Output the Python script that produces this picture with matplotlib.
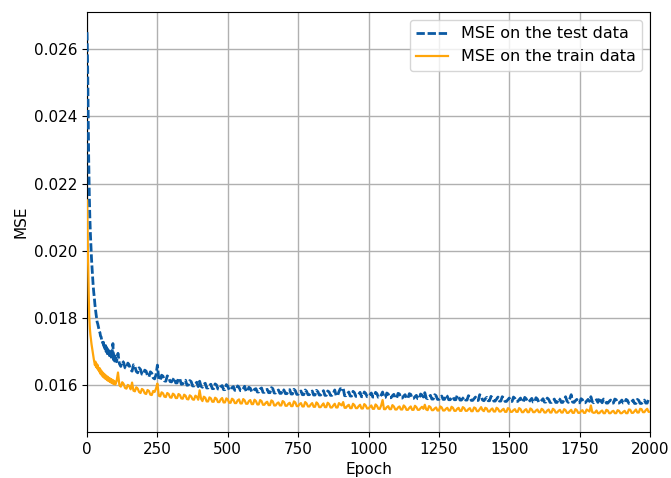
import matplotlib
matplotlib.use("Agg")
import matplotlib.pyplot as plt

epochs = list(range(0, 100, 2)) + list(range(100, 2001, 5))

mse_test = [
    # epochs 0..100 (step 2)
    0.02650, 0.02560, 0.02420, 0.02270, 0.02170, 0.02100, 0.02050, 0.02010, 0.01975, 0.01945,
    0.01920, 0.01895, 0.01875, 0.01860, 0.01840, 0.01825, 0.01812, 0.01800, 0.01788, 0.01783,
    0.01775, 0.01768, 0.01760, 0.01756, 0.01746, 0.01744, 0.01735, 0.01736, 0.01725, 0.01728,
    0.01716, 0.01722, 0.01708, 0.01718, 0.01700, 0.01712, 0.01694, 0.01706, 0.01690, 0.01702,
    0.01684, 0.01700, 0.01680, 0.01694, 0.01677, 0.01708, 0.01724, 0.01676, 0.01690, 0.01672,
    0.01684,
    # epochs 105..2000 (step 5)
    0.01670, 0.01695, 0.01664, 0.01656, 0.01672, 0.01668, 0.01652, 0.01650, 0.01666, 0.01660,
    0.01646, 0.01642, 0.01661, 0.01656, 0.01641, 0.01637, 0.01652, 0.01647, 0.01633, 0.01632,
    0.01645, 0.01642, 0.01628, 0.01625, 0.01640, 0.01636, 0.01622, 0.01619, 0.01631, 0.01660,
    0.01618, 0.01615, 0.01630, 0.01627, 0.01613, 0.01612, 0.01628, 0.01624, 0.01611, 0.01610,
    0.01616, 0.01622, 0.01607, 0.01607, 0.01621, 0.01618, 0.01603, 0.01604, 0.01612, 0.01615,
    0.01600, 0.01601, 0.01614, 0.01611, 0.01598, 0.01598, 0.01605, 0.01609, 0.01596, 0.01612,
    0.01597, 0.01594, 0.01603, 0.01606, 0.01592, 0.01592, 0.01600, 0.01603, 0.01590, 0.01590,
    0.01604, 0.01601, 0.01589, 0.01588, 0.01596, 0.01599, 0.01587, 0.01587, 0.01602, 0.01597,
    0.01586, 0.01586, 0.01593, 0.01596, 0.01585, 0.01585, 0.01598, 0.01594, 0.01584, 0.01584,
    0.01590, 0.01597, 0.01582, 0.01582, 0.01594, 0.01591, 0.01581, 0.01581, 0.01588, 0.01590,
    0.01580, 0.01580, 0.01589, 0.01592, 0.01579, 0.01579, 0.01585, 0.01588, 0.01578, 0.01578,
    0.01593, 0.01590, 0.01577, 0.01577, 0.01583, 0.01586, 0.01576, 0.01576, 0.01589, 0.01585,
    0.01575, 0.01575, 0.01582, 0.01587, 0.01574, 0.01574, 0.01588, 0.01584, 0.01573, 0.01573,
    0.01580, 0.01583, 0.01572, 0.01572, 0.01586, 0.01582, 0.01572, 0.01572, 0.01578, 0.01583,
    0.01571, 0.01571, 0.01585, 0.01581, 0.01571, 0.01571, 0.01577, 0.01584, 0.01570, 0.01570,
    0.01583, 0.01580, 0.01570, 0.01570, 0.01576, 0.01586, 0.01569, 0.01569, 0.01581, 0.01590,
    0.01588, 0.01592, 0.01569, 0.01569, 0.01575, 0.01580, 0.01568, 0.01568, 0.01582, 0.01578,
    0.01567, 0.01567, 0.01573, 0.01579, 0.01566, 0.01566, 0.01580, 0.01576, 0.01566, 0.01566,
    0.01572, 0.01577, 0.01565, 0.01565, 0.01579, 0.01575, 0.01564, 0.01564, 0.01571, 0.01580,
    0.01564, 0.01564, 0.01577, 0.01574, 0.01563, 0.01563, 0.01569, 0.01573, 0.01562, 0.01562,
    0.01576, 0.01574, 0.01562, 0.01562, 0.01568, 0.01572, 0.01561, 0.01561, 0.01575, 0.01573,
    0.01561, 0.01561, 0.01566, 0.01570, 0.01560, 0.01560, 0.01574, 0.01571, 0.01565, 0.01578,
    0.01562, 0.01560, 0.01566, 0.01570, 0.01559, 0.01559, 0.01572, 0.01569, 0.01558, 0.01558,
    0.01564, 0.01568, 0.01558, 0.01558, 0.01571, 0.01567, 0.01557, 0.01557, 0.01562, 0.01566,
    0.01557, 0.01557, 0.01570, 0.01567, 0.01556, 0.01556, 0.01561, 0.01565, 0.01556, 0.01556,
    0.01569, 0.01566, 0.01555, 0.01555, 0.01560, 0.01565, 0.01555, 0.01555, 0.01572, 0.01568,
    0.01556, 0.01554, 0.01560, 0.01564, 0.01554, 0.01554, 0.01567, 0.01563, 0.01553, 0.01553,
    0.01559, 0.01565, 0.01553, 0.01553, 0.01566, 0.01562, 0.01552, 0.01552, 0.01557, 0.01562,
    0.01552, 0.01552, 0.01565, 0.01561, 0.01552, 0.01552, 0.01557, 0.01562, 0.01551, 0.01551,
    0.01564, 0.01560, 0.01551, 0.01551, 0.01556, 0.01561, 0.01550, 0.01550, 0.01563, 0.01559,
    0.01550, 0.01550, 0.01555, 0.01560, 0.01550, 0.01550, 0.01562, 0.01558, 0.01549, 0.01549,
    0.01554, 0.01559, 0.01549, 0.01549, 0.01561, 0.01558, 0.01549, 0.01549, 0.01557, 0.01566,
    0.01553, 0.01549, 0.01560, 0.01572, 0.01550, 0.01549, 0.01554, 0.01558, 0.01548, 0.01548,
    0.01560, 0.01557, 0.01548, 0.01548, 0.01553, 0.01558, 0.01552, 0.01566, 0.01551, 0.01548,
    0.01553, 0.01557, 0.01549, 0.01563, 0.01554, 0.01548, 0.01559, 0.01557, 0.01547, 0.01547,
    0.01552, 0.01556, 0.01547, 0.01547, 0.01559, 0.01557, 0.01547, 0.01547, 0.01551, 0.01556,
    0.01547, 0.01547, 0.01558, 0.01555, 0.01546, 0.01546, 0.01551, 0.01556, 0.01546, 0.01546,
    0.01558, 0.01555, 0.01546, 0.01546, 0.01551, 0.01556, 0.01547, 0.01547, 0.01559, 0.01556,
]

mse_train = [
    # epochs 0..100 (step 2)
    0.02150, 0.02050, 0.01960, 0.01870, 0.01800, 0.01770, 0.01750, 0.01735, 0.01722, 0.01712,
    0.01700, 0.01688, 0.01678, 0.01668, 0.01660, 0.01670, 0.01654, 0.01664, 0.01650, 0.01660,
    0.01645, 0.01652, 0.01640, 0.01650, 0.01634, 0.01644, 0.01630, 0.01640, 0.01626, 0.01636,
    0.01623, 0.01633, 0.01620, 0.01630, 0.01618, 0.01627, 0.01615, 0.01625, 0.01613, 0.01622,
    0.01611, 0.01620, 0.01609, 0.01618, 0.01607, 0.01616, 0.01605, 0.01614, 0.01604, 0.01612,
    0.01602,
    # epochs 105..2000 (step 5)
    0.01612, 0.01638, 0.01600, 0.01596, 0.01609, 0.01604, 0.01592, 0.01590, 0.01601, 0.01598,
    0.01588, 0.01608, 0.01584, 0.01582, 0.01594, 0.01590, 0.01580, 0.01577, 0.01589, 0.01586,
    0.01576, 0.01574, 0.01586, 0.01583, 0.01572, 0.01571, 0.01583, 0.01580, 0.01590, 0.01605,
    0.01569, 0.01567, 0.01579, 0.01576, 0.01566, 0.01565, 0.01577, 0.01574, 0.01564, 0.01563,
    0.01575, 0.01572, 0.01562, 0.01562, 0.01574, 0.01571, 0.01561, 0.01560, 0.01572, 0.01569,
    0.01559, 0.01558, 0.01570, 0.01567, 0.01558, 0.01557, 0.01569, 0.01566, 0.01557, 0.01585,
    0.01560, 0.01553, 0.01566, 0.01563, 0.01552, 0.01552, 0.01564, 0.01561, 0.01551, 0.01551,
    0.01563, 0.01560, 0.01550, 0.01550, 0.01558, 0.01562, 0.01549, 0.01549, 0.01561, 0.01558,
    0.01548, 0.01548, 0.01560, 0.01557, 0.01547, 0.01547, 0.01555, 0.01558, 0.01546, 0.01546,
    0.01559, 0.01555, 0.01545, 0.01545, 0.01553, 0.01556, 0.01544, 0.01544, 0.01557, 0.01553,
    0.01543, 0.01543, 0.01556, 0.01553, 0.01542, 0.01542, 0.01548, 0.01551, 0.01541, 0.01541,
    0.01555, 0.01552, 0.01540, 0.01540, 0.01546, 0.01549, 0.01540, 0.01540, 0.01553, 0.01550,
    0.01539, 0.01539, 0.01545, 0.01548, 0.01538, 0.01538, 0.01552, 0.01549, 0.01538, 0.01538,
    0.01544, 0.01547, 0.01537, 0.01537, 0.01550, 0.01546, 0.01537, 0.01537, 0.01543, 0.01547,
    0.01536, 0.01536, 0.01549, 0.01545, 0.01535, 0.01535, 0.01541, 0.01546, 0.01535, 0.01535,
    0.01548, 0.01544, 0.01534, 0.01534, 0.01540, 0.01545, 0.01534, 0.01534, 0.01547, 0.01543,
    0.01540, 0.01550, 0.01533, 0.01533, 0.01539, 0.01542, 0.01532, 0.01532, 0.01545, 0.01541,
    0.01532, 0.01532, 0.01538, 0.01542, 0.01531, 0.01531, 0.01544, 0.01540, 0.01531, 0.01531,
    0.01536, 0.01540, 0.01530, 0.01530, 0.01543, 0.01539, 0.01530, 0.01530, 0.01540, 0.01556,
    0.01529, 0.01529, 0.01535, 0.01538, 0.01529, 0.01529, 0.01541, 0.01537, 0.01528, 0.01528,
    0.01534, 0.01537, 0.01528, 0.01528, 0.01540, 0.01536, 0.01527, 0.01527, 0.01533, 0.01537,
    0.01527, 0.01527, 0.01539, 0.01535, 0.01527, 0.01527, 0.01532, 0.01536, 0.01530, 0.01542,
    0.01528, 0.01526, 0.01538, 0.01535, 0.01526, 0.01526, 0.01531, 0.01534, 0.01525, 0.01525,
    0.01537, 0.01534, 0.01525, 0.01525, 0.01530, 0.01533, 0.01525, 0.01525, 0.01536, 0.01533,
    0.01524, 0.01524, 0.01530, 0.01533, 0.01524, 0.01524, 0.01535, 0.01532, 0.01524, 0.01524,
    0.01529, 0.01532, 0.01523, 0.01523, 0.01534, 0.01532, 0.01523, 0.01523, 0.01529, 0.01535,
    0.01526, 0.01523, 0.01533, 0.01531, 0.01522, 0.01522, 0.01528, 0.01531, 0.01522, 0.01522,
    0.01533, 0.01530, 0.01522, 0.01522, 0.01527, 0.01530, 0.01521, 0.01521, 0.01532, 0.01530,
    0.01521, 0.01521, 0.01526, 0.01529, 0.01521, 0.01521, 0.01532, 0.01529, 0.01520, 0.01520,
    0.01526, 0.01529, 0.01520, 0.01520, 0.01531, 0.01528, 0.01520, 0.01520, 0.01525, 0.01528,
    0.01520, 0.01520, 0.01530, 0.01527, 0.01519, 0.01519, 0.01525, 0.01528, 0.01519, 0.01519,
    0.01530, 0.01527, 0.01519, 0.01519, 0.01524, 0.01527, 0.01519, 0.01519, 0.01529, 0.01526,
    0.01518, 0.01518, 0.01523, 0.01527, 0.01518, 0.01518, 0.01529, 0.01526, 0.01518, 0.01518,
    0.01523, 0.01526, 0.01518, 0.01518, 0.01528, 0.01525, 0.01522, 0.01540, 0.01520, 0.01518,
    0.01519, 0.01525, 0.01517, 0.01517, 0.01522, 0.01525, 0.01517, 0.01517, 0.01527, 0.01525,
    0.01517, 0.01517, 0.01522, 0.01524, 0.01517, 0.01517, 0.01526, 0.01524, 0.01517, 0.01517,
    0.01521, 0.01524, 0.01517, 0.01517, 0.01528, 0.01527, 0.01518, 0.01518, 0.01523, 0.01528,
    0.01519, 0.01519, 0.01530, 0.01529, 0.01520, 0.01520, 0.01526, 0.01530, 0.01521, 0.01521,
]

y_ticks = [0.016, 0.018, 0.020, 0.022, 0.024, 0.026]
x_ticks = [0, 250, 500, 750, 1000, 1250, 1500, 1750, 2000]

plt.rcParams['font.family'] = ['DejaVu Sans']
fig = plt.figure(figsize=(6.71, 4.78), dpi=100)
ax = fig.add_axes([0.1297, 0.0962, 0.839, 0.8787])

ax.plot(epochs, mse_test, linestyle='--', dashes=(3.0, 1.0), color='#0b5aa3', lw=2.0,
        label='MSE on the test data', zorder=3)
ax.plot(epochs, mse_train, linestyle='-', color='#ffa50a', lw=1.6,
        label='MSE on the train data', zorder=3)

ax.set_xlim(0, 2000)
ax.set_ylim(0.01461, 0.0271)
ax.set_xticks(x_ticks)
ax.set_yticks(y_ticks)
ax.set_yticklabels([f"{v:.3f}" for v in y_ticks])
ax.grid(True, color='#b0b0b0', lw=1.0)
ax.set_axisbelow(True)
ax.tick_params(labelsize=11)
ax.set_xlabel('Epoch', fontsize=11)
ax.set_ylabel('MSE', fontsize=11)
ax.legend(loc='upper right', fontsize=11.5)

fig.savefig('out.png', dpi=100)
